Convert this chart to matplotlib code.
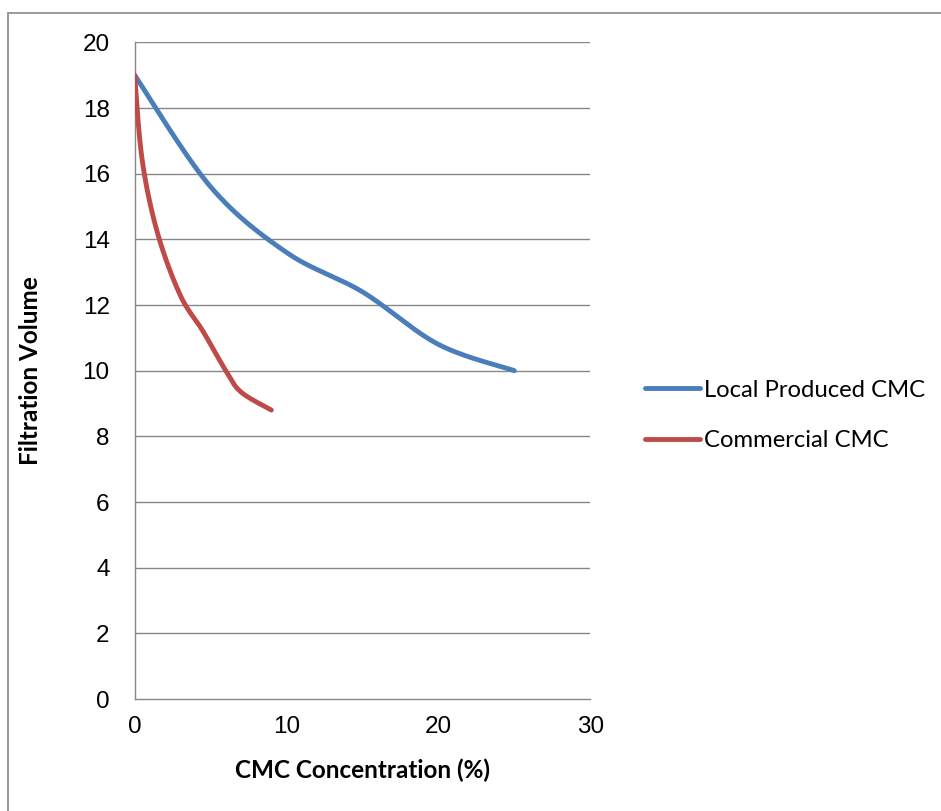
import numpy as np
import matplotlib
matplotlib.use('Agg')
import matplotlib.pyplot as plt
from matplotlib.patches import Rectangle

# filtration volume vs CMC concentration
local_x = [0, 5, 10, 15, 20, 25]
local_y = [19, 15.6, 13.6, 12.4, 10.8, 10]

comm_x = [0, 0.5, 1.5, 3, 4.5, 6, 7, 9]
comm_y = [19, 16.4, 14.2, 12.3, 11.2, 10.0, 9.35, 8.8]

x_ticks = [0, 10, 20, 30]
y_ticks = [0, 2, 4, 6, 8, 10, 12, 14, 16, 18, 20]


def smooth(xs, ys, n=30):
    # bezier smoothing like the spreadsheet "smoothed line" option
    p = np.column_stack([xs, ys]).astype(float)
    p = np.vstack([p[0], p, p[-1]])
    out = []
    t = np.linspace(0, 1, n)[:, None]
    for i in range(1, len(p) - 2):
        p0, p3 = p[i], p[i + 1]
        c1 = p0 + (p[i + 1] - p[i - 1]) / 6
        c2 = p3 - (p[i + 2] - p[i]) / 6
        seg = ((1 - t) ** 3) * p0 + 3 * ((1 - t) ** 2) * t * c1 + 3 * (1 - t) * t ** 2 * c2 + t ** 3 * p3
        out.append(seg if i == 1 else seg[1:])
    s = np.vstack(out)
    return s[:, 0], s[:, 1]


fig = plt.figure(figsize=(9.41, 8.11), dpi=100)
ax = fig.add_axes([0.1431, 0.1381, 0.4842, 0.8097])

grey = '#878787'
for v in y_ticks[1:]:
    ax.axhline(v, color=grey, lw=1.0, zorder=1)

sx, sy = smooth(local_x, local_y)
ax.plot(sx, sy, color='#4A7EBB', lw=3.5, solid_capstyle='round', label='Local Produced CMC', zorder=3)
sx, sy = smooth(comm_x, comm_y)
ax.plot(sx, sy, color='#BE4B48', lw=3.5, solid_capstyle='round', label='Commercial CMC', zorder=3)

ax.set_xlim(0, 30)
ax.set_ylim(0, 20)
ax.set_xticks(x_ticks)
ax.set_yticks(y_ticks)
ax.tick_params(length=0, labelsize=17.5)
ax.tick_params(axis='y', pad=18)
ax.tick_params(axis='x', pad=12)
for lab in ax.get_xticklabels() + ax.get_yticklabels():
    lab.set_fontfamily('Liberation Sans')

for s in ['top', 'right']:
    ax.spines[s].set_visible(False)
for s in ['left', 'bottom']:
    ax.spines[s].set_color(grey)
    ax.spines[s].set_linewidth(1.0)

ax.set_xlabel('CMC Concentration (%)', fontsize=17.5, fontweight='bold', family='Lato', labelpad=15)
ax.set_ylabel('Filtration Volume', fontsize=17.5, fontweight='bold', family='Lato')
ax.yaxis.set_label_coords(-0.203, 0.5)

fig.legend(loc='center left', bbox_to_anchor=(645 / 941, 1 - 415.5 / 811), frameon=False,
           prop={'family': 'Lato', 'size': 17.2}, borderpad=0, handlelength=2.3,
           handletextpad=0.18, labelspacing=1.25, borderaxespad=0)

# outer chart frame
fig.patches.append(Rectangle((8 / 941, -0.1), 1.2, 1 - 13 / 811 + 0.1, transform=fig.transFigure,
                             fill=False, edgecolor=grey, lw=1.2))

fig.savefig('out.png', dpi=100)
